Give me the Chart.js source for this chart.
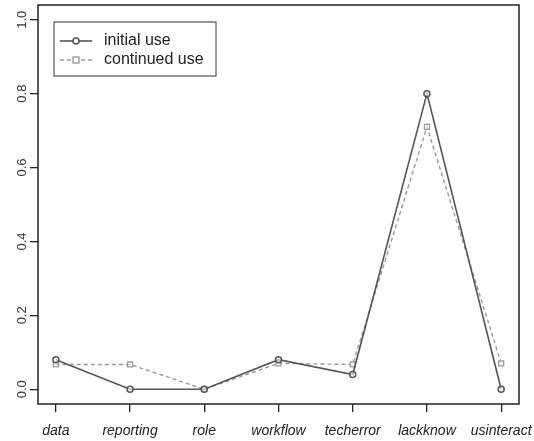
<!DOCTYPE html>
<html>
<head>
<meta charset="utf-8">
<script src="https://cdn.jsdelivr.net/npm/chart.js@4/dist/chart.umd.min.js"></script>
<style>
  html, body { margin: 0; padding: 0; background: #fff; }
  #wrap { width: 534px; height: 441px; }
</style>
</head>
<body>
<div id="wrap"><canvas id="c" width="534" height="441"></canvas></div>
<script>
const categories = ['data', 'reporting', 'role', 'workflow', 'techerror', 'lackknow', 'usinteract'];
const initialUse = [0.08, 0, 0, 0.08, 0.04, 0.8, 0];
const continuedUse = [0.067, 0.067, 0, 0.07, 0.067, 0.71, 0.07];
const yTicks = [0, 0.2, 0.4, 0.6, 0.8, 1.0];

const toPoints = arr => arr.map((v, i) => ({x: i, y: v}));

// R-style frame, rotated y labels and legend inside the plot
const rDecor = {
  id: 'rDecor',
  afterDraw(chart) {
    const ctx = chart.ctx;
    const a = chart.chartArea;
    const ys = chart.scales.y;
    ctx.save();
    ctx.strokeStyle = '#222';
    ctx.lineWidth = 1.5;
    ctx.strokeRect(a.left, a.top, a.right - a.left, a.bottom - a.top);

    ctx.fillStyle = '#333';
    ctx.font = '13px "Liberation Sans", Arial, sans-serif';
    ctx.textAlign = 'center';
    ctx.textBaseline = 'middle';
    yTicks.forEach(t => {
      ctx.save();
      ctx.translate(22, ys.getPixelForValue(t));
      ctx.rotate(-Math.PI / 2);
      ctx.fillText(t.toFixed(1), 0, 0);
      ctx.restore();
    });

    // legend
    const lx = 54, ly = 22;
    const r1 = 41, r2 = 60;
    ctx.strokeStyle = '#333';
    ctx.lineWidth = 1;
    ctx.strokeRect(lx, ly, 162, 54);
    ctx.font = '16px "Liberation Sans", Arial, sans-serif';
    ctx.textAlign = 'left';
    ctx.fillStyle = '#222';
    ctx.fillText('initial use', 104, r1);
    ctx.fillText('continued use', 104, r2);

    ctx.strokeStyle = '#555';
    ctx.lineWidth = 1.6;
    ctx.beginPath();
    ctx.moveTo(60, r1); ctx.lineTo(92, r1);
    ctx.stroke();
    ctx.beginPath();
    ctx.arc(76, r1, 3, 0, Math.PI * 2);
    ctx.fillStyle = '#fff'; ctx.fill(); ctx.stroke();

    ctx.strokeStyle = '#999';
    ctx.lineWidth = 1.3;
    ctx.setLineDash([4, 3]);
    ctx.beginPath();
    ctx.moveTo(60, r2); ctx.lineTo(94, r2);
    ctx.stroke();
    ctx.setLineDash([]);
    ctx.fillStyle = '#fff';
    ctx.fillRect(73, r2 - 3, 6, 6);
    ctx.strokeRect(73, r2 - 3, 6, 6);
    ctx.restore();
  }
};

new Chart(document.getElementById('c').getContext('2d'), {
  type: 'line',
  data: {
    datasets: [
      {
        label: 'initial use',
        data: toPoints(initialUse),
        borderColor: '#555',
        borderWidth: 1.6,
        pointStyle: 'circle',
        pointRadius: 3,
        pointBorderWidth: 1.5,
        pointBorderColor: '#555',
        pointBackgroundColor: 'rgba(255,255,255,0.6)',
        order: 1
      },
      {
        label: 'continued use',
        data: toPoints(continuedUse),
        borderColor: '#999',
        borderWidth: 1.4,
        borderDash: [4, 3],
        pointStyle: 'rect',
        pointRadius: 3.5,
        pointBorderWidth: 1.3,
        pointBorderColor: '#999',
        pointBackgroundColor: 'rgba(255,255,255,0.6)',
        order: 2
      }
    ]
  },
  options: {
    responsive: false,
    animation: false,
    layout: { autoPadding: false, padding: { top: 5, right: 15, left: 0, bottom: 0 } },
    plugins: { legend: { display: false }, tooltip: { enabled: false } },
    scales: {
      x: {
        type: 'linear',
        min: -0.24,
        max: 6.24,
        afterBuildTicks: s => { s.ticks = categories.map((c, i) => ({value: i})); },
        afterFit: s => { s.height = 37; s.paddingLeft = 0; s.paddingRight = 0; },
        grid: { drawOnChartArea: false, drawTicks: true, tickLength: 8, color: '#222', lineWidth: 1.3 },
        border: { display: false },
        ticks: {
          callback: v => categories[v],
          autoSkip: false,
          maxRotation: 0,
          padding: 11,
          color: '#222',
          font: { family: '"Liberation Sans", Arial, sans-serif', size: 14, style: 'italic' }
        }
      },
      y: {
        min: -0.04,
        max: 1.04,
        afterBuildTicks: s => { s.ticks = yTicks.map(v => ({value: v})); },
        afterFit: s => { s.width = 38; s.paddingTop = 0; s.paddingBottom = 0; },
        grid: { drawOnChartArea: false, drawTicks: true, tickLength: 8, color: '#222', lineWidth: 1.3 },
        border: { display: false },
        ticks: { display: false }
      }
    }
  },
  plugins: [rDecor]
});
</script>
</body>
</html>
